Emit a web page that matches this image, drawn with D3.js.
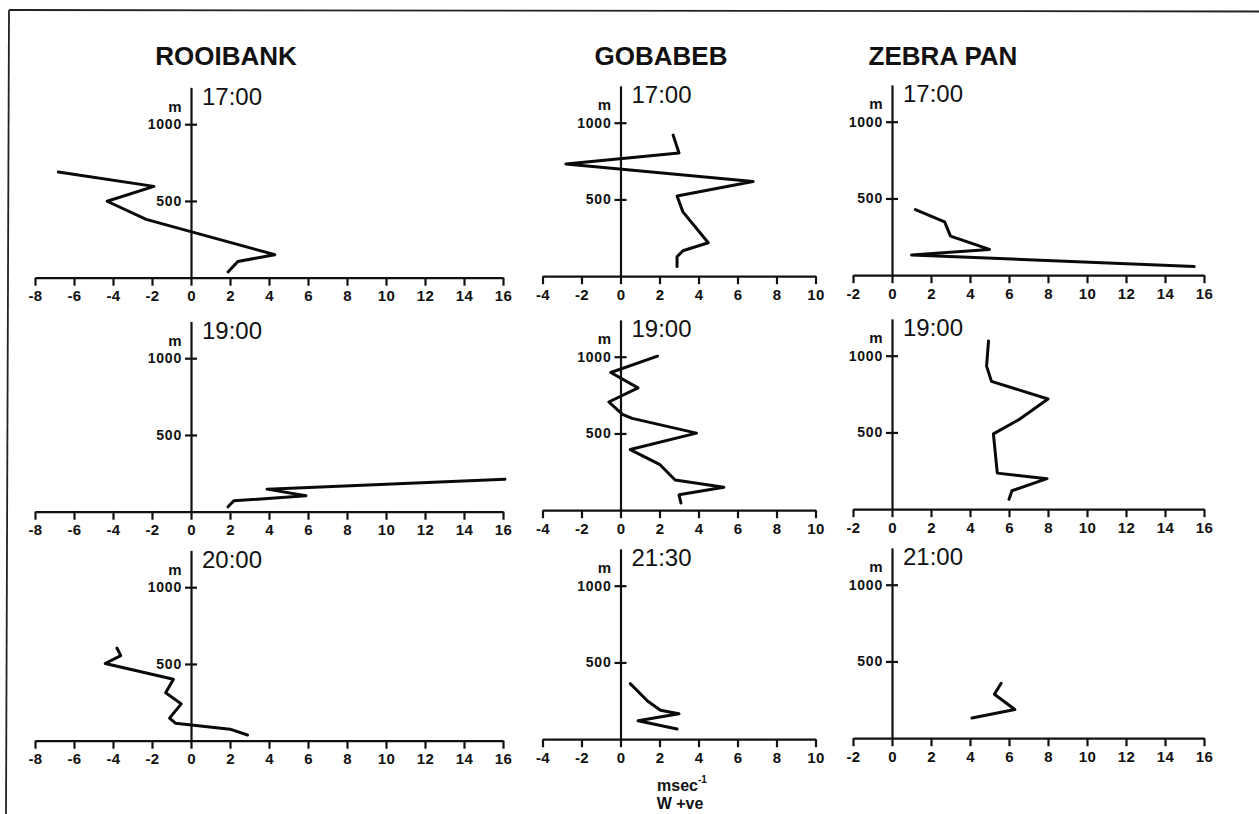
<!DOCTYPE html>
<html>
<head>
<meta charset="utf-8">
<script src="https://cdn.jsdelivr.net/npm/d3@7"></script>
<style>
  html, body { margin: 0; padding: 0; background: #fff; }
  svg { display: block; font-family: "Liberation Sans", Arial, Helvetica, sans-serif; }
  .tick text { fill: #111; }
</style>
</head>
<body>
<svg id="chart" width="1259" height="814"></svg>
<script>
// Stations (columns) and sounding times (rows)
const stations = ["ROOIBANK", "GOBABEB", "ZEBRA PAN"];
const timesRooibank = ["17:00", "19:00", "20:00"];
const timesGobabeb = ["17:00", "19:00", "21:30"];
const timesZebraPan = ["17:00", "19:00", "21:00"];

// Wind component (m/s, W positive) vs height (m)
const rooibank1700 = [[1.9,37],[2.4,106],[4.3,150],[-2.3,380],[-4.3,498],[-1.9,595],[-6.8,688]];
const rooibank1900 = [[1.9,32],[2.2,71],[5.9,104],[3.9,147],[16.1,211]];
const rooibank2000 = [[2.9,37],[2.0,75],[-0.8,114],[-1.1,147],[-0.5,240],[-1.3,312],[-0.9,400],[-4.4,503],[-3.6,554],[-3.8,604]];

const gobabeb1700 = [[2.9,63],[2.9,127],[3.2,166],[4.5,218],[3.2,419],[2.9,522],[6.8,617],[-2.8,731],[3.0,803],[2.7,919]];
const gobabeb1900 = [[3.1,47],[3.0,100],[5.3,150],[2.8,197],[2.0,299],[0.5,395],[3.9,502],[0.6,598],[0.1,624],[-0.6,705],[0.9,797],[-0.5,897],[1.9,1004]];
const gobabeb2130 = [[2.9,66],[0.9,120],[3.0,166],[2.05,188],[1.4,247],[0.5,362]];

const zebra1700 = [[15.5,56],[1.0,132],[5.0,168],[3.0,255],[2.7,347],[1.2,427]];
const zebra1900 = [[6.0,64],[6.15,120],[7.95,199],[5.4,235],[5.2,491],[6.5,583],[8.0,718],[5.1,833],[4.85,932],[4.95,1096]];
const zebra2100 = [[4.1,132],[6.3,187],[5.25,286],[5.6,358]];

// Axis extents and tick values
const xDomains = [[-8, 16], [-4, 10], [-2, 16]];
const yTicks = [500, 1000];
const yTop = 1240;

const times = [timesRooibank, timesGobabeb, timesZebraPan];
const profiles = [
  [rooibank1700, rooibank1900, rooibank2000],
  [gobabeb1700, gobabeb1900, gobabeb2130],
  [zebra1700, zebra1900, zebra2100]
];

// Layout
const W = 1259, H = 814;
const colZero = [191, 620.5, 892];      // x pixel of the 0 m/s axis in each column
const rowBase = [277.7, 511.7, 740.7];  // y pixel of the ground line in each row
const colShift = [0, -1.5, -2.5];       // slight drift of the printed baseline across the page
const pxPerUnit = 19.5;
const pxPerKm = 153.5;
const titleX = [226, 661, 943];
const titleY = 64.5;
const labelFont = "Liberation Sans, Arial, sans-serif";

const svg = d3.select("#chart");
svg.append("rect").attr("width", W).attr("height", H).attr("fill", "#fff");

// Frame lines along the top and the left
svg.append("line").attr("x1", 9).attr("y1", 10).attr("x2", W).attr("y2", 11.5)
  .attr("stroke", "#222").attr("stroke-width", 1.8);
svg.append("line").attr("x1", 9).attr("y1", 10).attr("x2", 6).attr("y2", H)
  .attr("stroke", "#222").attr("stroke-width", 1.8);

// Station titles
stations.forEach((s, c) => {
  svg.append("text").attr("x", titleX[c]).attr("y", titleY)
    .attr("text-anchor", "middle").attr("font-size", 26).attr("font-weight", "bold")
    .attr("fill", "#111").text(s);
});

const line = d3.line().curve(d3.curveLinear);
const signed = d => d < 0 ? "-" + Math.abs(d) : String(d);

stations.forEach((s, c) => {
  times[c].forEach((t, r) => {
    const base = rowBase[r] + colShift[c];
    const dom = xDomains[c];
    const x = d3.scaleLinear().domain(dom)
      .range([colZero[c] + dom[0] * pxPerUnit, colZero[c] + dom[1] * pxPerUnit]);
    const y = d3.scaleLinear().domain([0, 1000]).range([base, base - pxPerKm]);

    const g = svg.append("g");

    // Horizontal wind-speed axis
    const xAxis = d3.axisBottom(x)
      .tickValues(d3.range(dom[0], dom[1] + 1, 2))
      .tickSize(8).tickSizeOuter(0).tickPadding(5)
      .tickFormat(signed);
    const gx = g.append("g").attr("transform", `translate(0,${base})`).call(xAxis);
    gx.selectAll("path, line").attr("stroke", "#111").attr("stroke-width", 2.2);
    gx.selectAll("text").attr("font-size", 15).attr("font-weight", "bold")
      .attr("letter-spacing", 0.4).attr("font-family", labelFont);

    // Vertical height axis with crossing ticks
    const yAxis = d3.axisLeft(y.copy().domain([0, yTop]).range([base, base - yTop * pxPerKm / 1000]))
      .tickValues(yTicks).tickSize(6).tickSizeOuter(0).tickPadding(3)
      .tickFormat(d3.format("d"));
    const gy = g.append("g").attr("transform", `translate(${colZero[c]},0)`).call(yAxis);
    gy.selectAll(".tick line").attr("x1", 6);
    gy.selectAll("path, line").attr("stroke", "#111").attr("stroke-width", 2.2);
    gy.selectAll("text").attr("font-size", 14).attr("font-weight", "bold")
      .attr("letter-spacing", 0.8).attr("font-family", labelFont);

    // Height unit
    g.append("text").attr("x", colZero[c] - 16).attr("y", y(1080))
      .attr("text-anchor", "middle").attr("font-size", 15).attr("font-weight", "bold")
      .attr("fill", "#111").text("m");

    // Sounding time
    g.append("text").attr("x", colZero[c] + 11).attr("y", y(1127))
      .attr("font-size", 24).attr("fill", "#111").text(t);

    // Profile
    g.append("path").datum(profiles[c][r])
      .attr("d", line.x(d => x(d[0])).y(d => y(d[1])))
      .attr("fill", "none").attr("stroke", "#0a0a0a")
      .attr("stroke-width", 3).attr("stroke-linejoin", "round").attr("stroke-linecap", "round");
  });
});

// Unit label under the centre column
const unit = svg.append("text").attr("x", 682).attr("y", 791)
  .attr("text-anchor", "middle").attr("font-size", 16).attr("font-weight", "bold").attr("fill", "#111");
unit.append("tspan").text("msec");
unit.append("tspan").attr("dy", -8).attr("font-size", 10).text("-1");
svg.append("text").attr("x", 680).attr("y", 808.5)
  .attr("text-anchor", "middle").attr("font-size", 16).attr("font-weight", "bold").attr("fill", "#111")
  .text("W +ve");
</script>
</body>
</html>
